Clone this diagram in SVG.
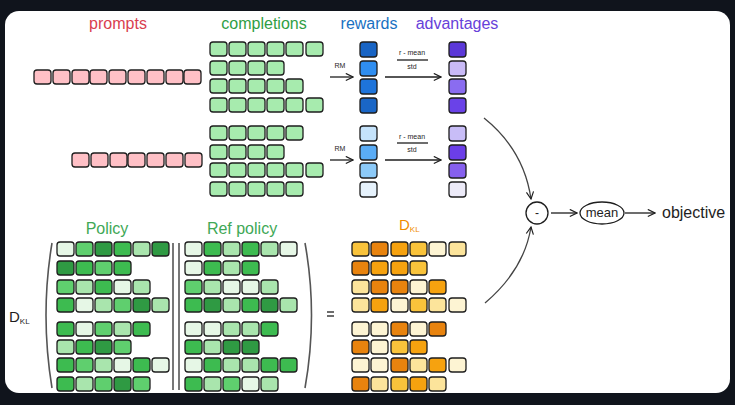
<svg xmlns="http://www.w3.org/2000/svg" width="735" height="405" viewBox="0 0 735 405">
<defs>
<style>
.c{stroke:#1e1e1e;stroke-width:1.3;rx:3;ry:3}
.pk{fill:#ffc0c6}.gr{fill:#a7ebae}
.VL{fill:#e6f7e6}.L{fill:#a9e5ad}.M{fill:#5fcf6e}.MD{fill:#3dbb50}.D{fill:#2f9a43}
.Y{fill:#f9c33b}.DO{fill:#e8830e}.O{fill:#f6a20f}.C{fill:#fdf4d3}.LY{fill:#fce49b}
.h{font-family:"Liberation Sans",Arial,sans-serif;font-size:16px;text-anchor:middle}
.t{font-family:"Liberation Sans",Arial,sans-serif;fill:#1e1e1e}
.ln{stroke:#1e1e1e;stroke-width:1.3;fill:none}
</style>
<marker id="ah" viewBox="0 0 10 10" refX="9" refY="5" markerWidth="9" markerHeight="9" orient="auto" markerUnits="userSpaceOnUse">
<path d="M1,1 L9,5 L1,9" fill="none" stroke="#1e1e1e" stroke-width="1.3"/>
</marker>
</defs>
<rect x="0" y="0" width="735" height="405" fill="#10141c"/>
<rect x="5" y="11" width="725" height="382" rx="14" fill="#ffffff"/>

<g id="headers">
<text class="h" x="118" y="29" fill="#d9404f">prompts</text>
<text class="h" x="264" y="29" fill="#2f9e44">completions</text>
<text class="h" x="369" y="29" fill="#1971c2">rewards</text>
<text class="h" x="457" y="29" fill="#6741d9">advantages</text>
</g>

<g id="prompt1">
<rect class="c pk" x="34" y="70" width="17" height="14"/><rect class="c pk" x="53" y="70" width="17" height="14"/><rect class="c pk" x="72" y="70" width="17" height="14"/><rect class="c pk" x="90" y="70" width="17" height="14"/><rect class="c pk" x="109" y="70" width="17" height="14"/><rect class="c pk" x="128" y="70" width="17" height="14"/><rect class="c pk" x="147" y="70" width="17" height="14"/><rect class="c pk" x="166" y="70" width="17" height="14"/><rect class="c pk" x="184" y="70" width="17" height="14"/>
</g>
<g id="prompt2">
<rect class="c pk" x="72" y="153" width="17" height="14"/><rect class="c pk" x="91" y="153" width="17" height="14"/><rect class="c pk" x="110" y="153" width="17" height="14"/><rect class="c pk" x="128" y="153" width="17" height="14"/><rect class="c pk" x="147" y="153" width="17" height="14"/><rect class="c pk" x="166" y="153" width="17" height="14"/><rect class="c pk" x="185" y="153" width="17" height="14"/>
</g>

<g id="completions1">
<rect class="c gr" x="210" y="42" width="17" height="14"/><rect class="c gr" x="229" y="42" width="17" height="14"/><rect class="c gr" x="248" y="42" width="17" height="14"/><rect class="c gr" x="267" y="42" width="17" height="14"/><rect class="c gr" x="286" y="42" width="17" height="14"/><rect class="c gr" x="306" y="42" width="17" height="14"/>
<rect class="c gr" x="210" y="61" width="17" height="14"/><rect class="c gr" x="229" y="61" width="17" height="14"/><rect class="c gr" x="248" y="61" width="17" height="14"/><rect class="c gr" x="267" y="61" width="17" height="14"/>
<rect class="c gr" x="210" y="79" width="17" height="14"/><rect class="c gr" x="229" y="79" width="17" height="14"/><rect class="c gr" x="248" y="79" width="17" height="14"/><rect class="c gr" x="267" y="79" width="17" height="14"/><rect class="c gr" x="286" y="79" width="17" height="14"/>
<rect class="c gr" x="210" y="98" width="17" height="14"/><rect class="c gr" x="229" y="98" width="17" height="14"/><rect class="c gr" x="248" y="98" width="17" height="14"/><rect class="c gr" x="267" y="98" width="17" height="14"/><rect class="c gr" x="286" y="98" width="17" height="14"/><rect class="c gr" x="306" y="98" width="17" height="14"/>
</g>
<g id="completions2">
<rect class="c gr" x="210" y="126" width="17" height="14"/><rect class="c gr" x="229" y="126" width="17" height="14"/><rect class="c gr" x="248" y="126" width="17" height="14"/><rect class="c gr" x="267" y="126" width="17" height="14"/><rect class="c gr" x="286" y="126" width="17" height="14"/>
<rect class="c gr" x="210" y="145" width="17" height="14"/><rect class="c gr" x="229" y="145" width="17" height="14"/><rect class="c gr" x="248" y="145" width="17" height="14"/><rect class="c gr" x="267" y="145" width="17" height="14"/>
<rect class="c gr" x="210" y="163" width="17" height="14"/><rect class="c gr" x="229" y="163" width="17" height="14"/><rect class="c gr" x="248" y="163" width="17" height="14"/><rect class="c gr" x="267" y="163" width="17" height="14"/><rect class="c gr" x="286" y="163" width="17" height="14"/><rect class="c gr" x="306" y="163" width="17" height="14"/>
<rect class="c gr" x="210" y="182" width="17" height="14"/><rect class="c gr" x="229" y="182" width="17" height="14"/><rect class="c gr" x="248" y="182" width="17" height="14"/><rect class="c gr" x="267" y="182" width="17" height="14"/><rect class="c gr" x="286" y="182" width="17" height="14"/>
</g>

<g id="rewards1">
<rect class="c" x="360" y="42" width="17" height="15" fill="#1864c4"/><rect class="c" x="360" y="61" width="17" height="15" fill="#2f8ef0"/><rect class="c" x="360" y="79" width="17" height="15" fill="#1e74da"/><rect class="c" x="360" y="98" width="17" height="15" fill="#1a66c6"/>
</g>
<g id="rewards2">
<rect class="c" x="360" y="126" width="17" height="15" fill="#c5e3fb"/><rect class="c" x="360" y="145" width="17" height="15" fill="#5aacf5"/><rect class="c" x="360" y="163" width="17" height="15" fill="#8ccaf8"/><rect class="c" x="360" y="182" width="17" height="15" fill="#e6f2fc"/>
</g>
<g id="advantages1">
<rect class="c" x="449" y="42" width="17" height="15" fill="#5b38d8"/><rect class="c" x="449" y="61" width="17" height="15" fill="#c9baf6"/><rect class="c" x="449" y="79" width="17" height="15" fill="#8a6cf0"/><rect class="c" x="449" y="98" width="17" height="15" fill="#6a42e8"/>
</g>
<g id="advantages2">
<rect class="c" x="449" y="126" width="17" height="15" fill="#c8bdf7"/><rect class="c" x="449" y="145" width="17" height="15" fill="#6b3ee8"/><rect class="c" x="449" y="163" width="17" height="15" fill="#8660ee"/><rect class="c" x="449" y="182" width="17" height="15" fill="#eceaf8"/>
</g>

<g id="labels-small" class="t" font-size="7">
<text x="340" y="68" text-anchor="middle">RM</text>
<text x="412" y="55" text-anchor="middle">r - mean</text>
<text x="412" y="69" text-anchor="middle">std</text>
<text x="340" y="151" text-anchor="middle">RM</text>
<text x="412" y="139" text-anchor="middle">r - mean</text>
<text x="412" y="152" text-anchor="middle">std</text>
</g>

<g id="policy-label"><text class="h" x="107" y="234" fill="#40a856" font-size="15">Policy</text></g>
<g id="ref-label"><text class="h" x="242" y="234" fill="#40a856" font-size="15">Ref policy</text></g>
<g id="dkl-label"><text x="399" y="230" font-family="Liberation Sans, Arial, sans-serif" font-size="15" fill="#f08c00">D<tspan font-size="8" dy="2">KL</tspan></text></g>
<g id="dkl-left"><text x="9" y="322" font-family="Liberation Sans, Arial, sans-serif" font-size="15" fill="#1e1e1e">D<tspan font-size="8" dy="2">KL</tspan></text></g>

<g id="policy">
<rect class="c VL" x="57" y="242" width="17" height="14"/><rect class="c M" x="76" y="242" width="17" height="14"/><rect class="c D" x="95" y="242" width="17" height="14"/><rect class="c MD" x="114" y="242" width="17" height="14"/><rect class="c L" x="133" y="242" width="17" height="14"/><rect class="c D" x="152" y="242" width="17" height="14"/>
<rect class="c D" x="57" y="261" width="17" height="14"/><rect class="c MD" x="76" y="261" width="17" height="14"/><rect class="c M" x="95" y="261" width="17" height="14"/><rect class="c MD" x="114" y="261" width="17" height="14"/>
<rect class="c M" x="57" y="280" width="17" height="14"/><rect class="c L" x="76" y="280" width="17" height="14"/><rect class="c MD" x="95" y="280" width="17" height="14"/><rect class="c VL" x="114" y="280" width="17" height="14"/><rect class="c L" x="133" y="280" width="17" height="14"/>
<rect class="c MD" x="57" y="298" width="17" height="14"/><rect class="c VL" x="76" y="298" width="17" height="14"/><rect class="c L" x="95" y="298" width="17" height="14"/><rect class="c M" x="114" y="298" width="17" height="14"/><rect class="c D" x="133" y="298" width="17" height="14"/><rect class="c L" x="152" y="298" width="17" height="14"/>
<rect class="c MD" x="57" y="322" width="17" height="14"/><rect class="c VL" x="76" y="322" width="17" height="14"/><rect class="c M" x="95" y="322" width="17" height="14"/><rect class="c L" x="114" y="322" width="17" height="14"/><rect class="c MD" x="133" y="322" width="17" height="14"/>
<rect class="c L" x="57" y="340" width="17" height="14"/><rect class="c MD" x="76" y="340" width="17" height="14"/><rect class="c D" x="95" y="340" width="17" height="14"/><rect class="c M" x="114" y="340" width="17" height="14"/>
<rect class="c MD" x="57" y="358" width="17" height="14"/><rect class="c M" x="76" y="358" width="17" height="14"/><rect class="c L" x="95" y="358" width="17" height="14"/><rect class="c VL" x="114" y="358" width="17" height="14"/><rect class="c MD" x="133" y="358" width="17" height="14"/><rect class="c VL" x="152" y="358" width="17" height="14"/>
<rect class="c MD" x="57" y="377" width="17" height="14"/><rect class="c L" x="76" y="377" width="17" height="14"/><rect class="c M" x="95" y="377" width="17" height="14"/><rect class="c D" x="114" y="377" width="17" height="14"/><rect class="c M" x="133" y="377" width="17" height="14"/>
</g>

<g id="ref-policy">
<rect class="c VL" x="185" y="242" width="17" height="14"/><rect class="c MD" x="204" y="242" width="17" height="14"/><rect class="c L" x="223" y="242" width="17" height="14"/><rect class="c MD" x="242" y="242" width="17" height="14"/><rect class="c L" x="261" y="242" width="17" height="14"/><rect class="c VL" x="280" y="242" width="17" height="14"/>
<rect class="c VL" x="185" y="261" width="17" height="14"/><rect class="c MD" x="204" y="261" width="17" height="14"/><rect class="c L" x="223" y="261" width="17" height="14"/><rect class="c MD" x="242" y="261" width="17" height="14"/>
<rect class="c M" x="185" y="280" width="17" height="14"/><rect class="c L" x="204" y="280" width="17" height="14"/><rect class="c VL" x="223" y="280" width="17" height="14"/><rect class="c VL" x="242" y="280" width="17" height="14"/><rect class="c L" x="261" y="280" width="17" height="14"/>
<rect class="c MD" x="185" y="298" width="17" height="14"/><rect class="c D" x="204" y="298" width="17" height="14"/><rect class="c L" x="223" y="298" width="17" height="14"/><rect class="c MD" x="242" y="298" width="17" height="14"/><rect class="c D" x="261" y="298" width="17" height="14"/><rect class="c L" x="280" y="298" width="17" height="14"/>
<rect class="c VL" x="185" y="322" width="17" height="14"/><rect class="c VL" x="204" y="322" width="17" height="14"/><rect class="c L" x="223" y="322" width="17" height="14"/><rect class="c L" x="242" y="322" width="17" height="14"/><rect class="c MD" x="261" y="322" width="17" height="14"/>
<rect class="c MD" x="185" y="340" width="17" height="14"/><rect class="c L" x="204" y="340" width="17" height="14"/><rect class="c D" x="223" y="340" width="17" height="14"/><rect class="c D" x="242" y="340" width="17" height="14"/>
<rect class="c VL" x="185" y="358" width="17" height="14"/><rect class="c MD" x="204" y="358" width="17" height="14"/><rect class="c L" x="223" y="358" width="17" height="14"/><rect class="c L" x="242" y="358" width="17" height="14"/><rect class="c MD" x="261" y="358" width="17" height="14"/><rect class="c MD" x="280" y="358" width="17" height="14"/>
<rect class="c MD" x="185" y="377" width="17" height="14"/><rect class="c L" x="204" y="377" width="17" height="14"/><rect class="c M" x="223" y="377" width="17" height="14"/><rect class="c VL" x="242" y="377" width="17" height="14"/><rect class="c L" x="261" y="377" width="17" height="14"/>
</g>

<g id="dkl">
<rect class="c Y" x="352" y="242" width="17" height="14"/><rect class="c DO" x="371" y="242" width="17" height="14"/><rect class="c O" x="391" y="242" width="17" height="14"/><rect class="c Y" x="410" y="242" width="17" height="14"/><rect class="c C" x="429" y="242" width="17" height="14"/><rect class="c LY" x="449" y="242" width="17" height="14"/>
<rect class="c DO" x="352" y="261" width="17" height="14"/><rect class="c O" x="371" y="261" width="17" height="14"/><rect class="c O" x="391" y="261" width="17" height="14"/><rect class="c Y" x="410" y="261" width="17" height="14"/>
<rect class="c LY" x="352" y="280" width="17" height="14"/><rect class="c DO" x="371" y="280" width="17" height="14"/><rect class="c DO" x="391" y="280" width="17" height="14"/><rect class="c C" x="410" y="280" width="17" height="14"/><rect class="c O" x="429" y="280" width="17" height="14"/>
<rect class="c LY" x="352" y="298" width="17" height="14"/><rect class="c O" x="371" y="298" width="17" height="14"/><rect class="c C" x="391" y="298" width="17" height="14"/><rect class="c Y" x="410" y="298" width="17" height="14"/><rect class="c LY" x="429" y="298" width="17" height="14"/><rect class="c C" x="449" y="298" width="17" height="14"/>
<rect class="c C" x="352" y="322" width="17" height="14"/><rect class="c C" x="371" y="322" width="17" height="14"/><rect class="c DO" x="391" y="322" width="17" height="14"/><rect class="c C" x="410" y="322" width="17" height="14"/><rect class="c DO" x="429" y="322" width="17" height="14"/>
<rect class="c DO" x="352" y="340" width="17" height="14"/><rect class="c C" x="371" y="340" width="17" height="14"/><rect class="c Y" x="391" y="340" width="17" height="14"/><rect class="c O" x="410" y="340" width="17" height="14"/>
<rect class="c C" x="352" y="358" width="17" height="14"/><rect class="c C" x="371" y="358" width="17" height="14"/><rect class="c DO" x="391" y="358" width="17" height="14"/><rect class="c LY" x="410" y="358" width="17" height="14"/><rect class="c O" x="429" y="358" width="17" height="14"/><rect class="c C" x="449" y="358" width="17" height="14"/>
<rect class="c DO" x="352" y="377" width="17" height="14"/><rect class="c LY" x="371" y="377" width="17" height="14"/><rect class="c Y" x="391" y="377" width="17" height="14"/><rect class="c O" x="410" y="377" width="17" height="14"/><rect class="c LY" x="429" y="377" width="17" height="14"/>
</g>

<g id="brackets" stroke="#555" stroke-width="1.6" fill="none">
<path d="M52,243 Q40,315 52,388"/>
<path d="M305,243 Q318,315 305,388"/>
<line x1="173" y1="243" x2="173" y2="390"/>
<line x1="179" y1="243" x2="179" y2="390"/>
</g>
<g id="equals" stroke="#1e1e1e" stroke-width="1.3">
<line x1="327" y1="312" x2="334" y2="312"/>
<line x1="327" y1="316" x2="334" y2="316"/>
</g>

<g id="minus-node">
<circle class="ln" cx="537" cy="213" r="11"/>
<text class="t" x="537" y="217" font-size="12" text-anchor="middle">-</text>
</g>
<g id="mean-node">
<ellipse class="ln" cx="602" cy="213" rx="22" ry="11"/>
<text class="t" x="602" y="217" font-size="13" text-anchor="middle">mean</text>
</g>
<g id="objective-node">
<text class="t" x="662" y="218" font-size="16">objective</text>
</g>

<g id="connectors" class="ln">
<line x1="330" y1="77" x2="353" y2="77" marker-end="url(#ah)"/>
<line x1="385" y1="77" x2="441" y2="77" marker-end="url(#ah)"/>
<line x1="397" y1="60" x2="428" y2="60"/>
<line x1="330" y1="160" x2="353" y2="160" marker-end="url(#ah)"/>
<line x1="385" y1="160" x2="441" y2="160" marker-end="url(#ah)"/>
<line x1="397" y1="143" x2="428" y2="143"/>
<path d="M484,118 Q524,150 531,199" stroke="#444" marker-end="url(#ah)"/>
<path d="M485,303 Q524,270 531,227" stroke="#444" marker-end="url(#ah)"/>
<line x1="551" y1="213" x2="577" y2="213" marker-end="url(#ah)"/>
<line x1="625" y1="213" x2="655" y2="213" marker-end="url(#ah)"/>
</g>
</svg>
